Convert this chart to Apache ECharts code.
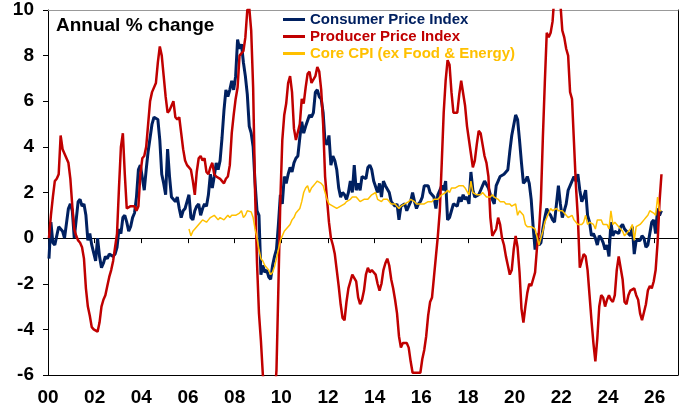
<!DOCTYPE html>
<html><head><meta charset="utf-8">
<script src="https://cdn.jsdelivr.net/npm/echarts@6/dist/echarts.min.js"></script>
<style>html,body{margin:0;padding:0;background:#fff}#c{width:685px;height:408px}</style>
</head><body><div id="c"></div>
<script>
// Monthly data, annual % change. CPI & PPI start Jan 2000, Core CPI starts Jan 2006
const startYear = 2000;
const coreStartYear = 2006;
const tickLabels = ['00','02','04','06','08','10','12','14','16','18','20','22','24','26'];
const seriesNames = ['Consumer Price Index','Producer Price Index','Core CPI (ex Food & Energy)'];

const cpi = [
-0.9,0.7,-0.2,-0.3,0.1,0.5,0.5,0.3,0.0,0.0,1.3,1.5,
1.2,0.0,0.8,1.6,1.7,1.4,1.5,1.0,-0.1,0.2,-0.3,-0.3,
-1.0,0.0,-0.8,-1.3,-1.1,-0.8,-0.9,-0.7,-0.7,-0.8,-0.7,-0.4,
0.4,0.2,0.9,1.0,0.7,0.3,0.5,0.9,1.1,1.8,3.0,3.2,
3.2,2.1,3.0,3.8,4.4,5.0,5.3,5.3,5.2,4.3,2.8,2.4,
1.9,3.9,2.7,1.8,1.8,1.6,1.8,1.3,0.9,1.2,1.3,1.6,
1.9,0.9,0.8,1.2,1.4,1.5,1.0,1.3,1.5,1.4,1.9,2.8,
2.2,2.7,3.3,3.0,3.4,4.4,5.6,6.5,6.2,6.5,6.9,6.5,
7.1,8.7,8.3,8.5,7.7,7.1,6.3,4.9,4.6,4.0,2.4,1.2,
1.0,-1.6,-1.2,-1.5,-1.4,-1.7,-1.8,-1.2,-0.8,-0.5,0.6,1.9,
1.5,2.7,2.4,2.8,3.1,2.9,3.3,3.5,3.6,4.4,5.1,4.6,
4.9,4.9,5.4,5.3,5.5,6.4,6.5,6.2,6.1,5.5,4.2,4.1,
4.5,3.2,3.6,3.4,3.0,2.2,1.8,2.0,1.9,1.7,2.0,2.5,
2.0,3.2,2.1,2.4,2.1,2.7,2.7,2.6,3.1,3.2,3.0,2.5,
2.5,2.0,2.4,1.8,2.5,2.3,2.3,2.0,1.6,1.6,1.4,1.5,
0.8,1.4,1.4,1.5,1.2,1.4,1.6,2.0,1.6,1.3,1.5,1.6,
1.8,2.3,2.3,2.3,2.0,1.9,1.8,1.3,1.9,2.1,2.3,2.1,
2.5,0.8,0.9,1.2,1.5,1.5,1.4,1.8,1.6,1.9,1.7,1.8,
1.5,2.9,2.1,1.8,1.8,1.9,2.1,2.3,2.5,2.5,2.2,1.9,
1.7,1.5,2.3,2.5,2.7,2.7,2.8,2.8,3.0,3.8,4.5,4.5,
5.4,5.2,4.3,3.3,2.4,2.5,2.7,2.4,1.7,0.5,-0.5,0.2,
-0.3,-0.2,0.4,0.9,1.3,1.1,1.0,0.8,0.7,1.5,2.3,1.5,
0.9,0.9,1.5,2.1,2.1,2.5,2.7,2.5,2.8,2.1,1.6,1.8,
2.1,1.0,0.7,0.1,0.2,0.0,-0.3,0.1,0.0,-0.2,-0.5,-0.3,
-0.8,0.7,0.1,0.3,0.3,0.2,0.5,0.6,0.4,0.3,0.2,0.1,
0.5,-0.7,-0.1,-0.1,-0.1,0.1,0.0,-0.4,-0.3,0.2,0.7,0.8,
0.2,1.3,1.0,1.2
];

const ppi = [
0.0,1.0,1.8,2.5,2.6,2.8,4.5,3.9,3.7,3.5,3.3,2.6,
1.4,0.4,0.1,-0.1,-0.2,-0.4,-0.9,-2.2,-3.0,-3.4,-3.9,-4.0,
-4.0,-4.1,-3.7,-3.0,-2.7,-2.5,-2.1,-1.7,-1.4,-1.0,-0.4,0.2,
2.2,4.0,4.6,2.8,1.3,1.3,1.4,1.4,1.4,1.2,1.4,2.8,
3.5,3.6,4.0,5.0,6.0,6.4,6.4,6.8,7.7,8.4,8.0,7.1,
6.2,5.5,5.6,5.8,6.0,5.3,5.2,5.3,4.6,3.9,3.4,3.2,
3.1,3.0,2.5,1.9,2.9,3.5,3.6,3.4,3.5,2.9,2.8,3.1,
3.3,2.8,2.7,2.7,2.6,2.5,2.4,2.6,2.7,3.2,4.6,5.4,
6.1,6.6,8.0,8.1,8.2,8.8,10.0,10.1,9.1,6.6,2.0,-1.1,
-3.3,-4.5,-6.0,-6.6,-7.2,-7.8,-8.2,-7.9,-7.0,-5.8,-2.1,1.7,
4.3,5.4,5.9,6.8,7.1,6.4,4.8,4.3,4.3,5.0,6.1,5.9,
6.6,7.2,7.3,6.8,6.8,7.1,7.5,7.3,6.5,5.0,2.7,1.7,
0.7,0.0,-0.3,-0.7,-1.4,-2.1,-2.9,-3.5,-3.6,-2.8,-2.2,-1.9,
-1.6,-1.6,-1.9,-2.6,-2.9,-2.7,-2.3,-1.6,-1.3,-1.5,-1.4,-1.4,
-1.6,-2.0,-2.3,-2.0,-1.4,-1.1,-0.9,-1.2,-1.8,-2.2,-2.7,-3.3,
-4.3,-4.8,-4.6,-4.6,-4.6,-4.8,-5.4,-5.9,-5.9,-5.9,-5.9,-5.9,
-5.3,-4.9,-4.3,-3.4,-2.8,-2.6,-1.7,-0.8,0.1,1.2,3.3,5.5,
6.9,7.8,7.6,6.4,5.5,5.5,5.5,6.3,6.9,6.9,5.8,4.9,
4.3,3.7,3.1,3.4,4.1,4.7,4.6,4.1,3.6,3.3,2.7,0.9,
0.1,0.1,0.4,0.9,0.6,0.0,-0.3,-0.8,-1.2,-1.6,-1.4,-0.5,
0.1,-0.4,-1.5,-3.1,-3.7,-3.0,-2.4,-2.0,-2.1,-2.1,-1.5,-0.4,
0.3,1.7,4.4,6.8,9.0,8.8,9.0,9.5,10.7,13.5,12.9,10.3,
9.1,8.8,8.3,8.0,6.4,6.1,4.2,2.3,0.9,-1.3,-1.3,-0.7,
-0.8,-1.4,-2.5,-3.6,-4.6,-5.4,-4.4,-3.0,-2.5,-2.6,-3.0,-2.7,
-2.5,-2.7,-2.8,-2.5,-1.4,-0.8,-0.8,-1.8,-2.8,-2.9,-2.5,-2.3,
-2.3,-2.2,-2.5,-2.7,-3.3,-3.6,-3.6,-2.9,-2.3,-2.1,-2.2,-1.9,
-1.4,-0.2,1.6,2.8
];

const core = [
0.4,0.1,0.3,0.4,0.5,0.6,0.7,0.8,0.8,0.7,0.8,0.9,
0.9,1.0,0.9,0.8,0.9,0.9,0.8,0.9,1.0,0.9,1.0,1.0,
1.0,1.0,1.1,1.2,0.9,1.0,1.2,1.2,1.15,0.9,0.4,0.0,
-0.5,-0.9,-1.0,-1.2,-1.3,-1.4,-1.6,-1.5,-1.25,-0.9,-0.5,-0.1,
0.1,0.3,0.4,0.5,0.6,0.8,0.9,1.1,1.2,1.3,1.6,2.0,
2.2,2.3,2.0,2.2,2.3,2.4,2.5,2.5,2.4,2.3,2.0,1.7,
1.5,1.5,1.4,1.4,1.3,1.3,1.4,1.4,1.5,1.6,1.6,1.7,
1.8,1.8,1.8,1.7,1.6,1.6,1.7,1.7,1.7,1.8,1.9,1.9,
2.0,1.7,1.7,1.6,1.7,1.7,1.7,1.6,1.5,1.5,1.5,1.4,
1.3,1.4,1.4,1.5,1.5,1.6,1.7,1.7,1.6,1.5,1.5,1.5,
1.5,1.5,1.5,1.6,1.6,1.6,1.7,1.7,1.7,1.8,1.9,1.9,
2.0,2.1,2.0,2.2,2.2,2.2,2.2,2.3,2.3,2.3,2.2,2.2,
1.9,2.5,2.0,2.0,1.9,1.9,1.9,2.0,1.9,1.8,1.8,1.8,
1.9,1.8,1.8,1.7,1.6,1.6,1.6,1.5,1.5,1.5,1.4,1.4,
1.5,1.0,1.2,1.1,1.0,0.6,0.5,0.5,0.5,0.5,0.4,0.4,
-0.3,0.0,0.3,0.7,0.9,1.1,1.3,1.2,1.2,1.3,1.2,1.2,
1.2,1.1,1.1,0.9,0.9,1.0,0.8,0.8,0.6,0.6,0.6,0.7,
1.0,0.6,0.7,0.7,0.6,0.4,0.8,0.8,0.8,0.6,0.6,0.6,
0.4,1.2,0.6,0.7,0.6,0.6,0.4,0.3,0.1,0.2,0.3,0.4,
0.6,-0.1,0.5,0.5,0.6,0.7,0.8,0.9,1.0,1.2,1.2,1.1,
1.0,1.8,1.2,1.2
];

const FONT = '"Liberation Sans", Arial, Helvetica, sans-serif';
const colors = ['#002060', '#C00000', '#FFC000'];

function toPoints(arr, y0) {
  return arr.map((v, i) => [y0 + (i + 0.5) / 12, v]);
}
function xLabel(v) {
  const k = Math.round(v - startYear);
  if (Math.abs(v - startYear - k) > 1e-6 || k % 2 !== 0) return '';
  return tickLabels[k / 2] !== undefined ? tickLabels[k / 2] : '';
}

const chart = echarts.init(document.getElementById('c'), null, {renderer: 'canvas'});
chart.setOption({
  animation: false,
  backgroundColor: '#fff',
  grid: {left: 48, right: 7, top: 10, bottom: 33, containLabel: false},
  graphic: [{
    type: 'text', left: 56, top: 16,
    style: {text: 'Annual % change', font: 'bold 19px ' + FONT, fill: '#000'}
  }],
  legend: {
    orient: 'vertical', left: 283, top: 12, padding: 0, itemGap: 2,
    itemWidth: 22, itemHeight: 3, icon: 'rect',
    textStyle: {fontSize: 15, fontWeight: 'bold', fontFamily: FONT, lineHeight: 15},
    data: seriesNames.map((n, i) => ({name: n, textStyle: {color: colors[i]}}))
  },
  xAxis: [
    {
      type: 'value', min: 2000, max: 2027, interval: 2,
      axisLine: {show: true, onZero: true, lineStyle: {color: '#000', width: 1}},
      axisTick: {show: true, length: 5, lineStyle: {color: '#000'}},
      axisLabel: {show: false}, splitLine: {show: false}
    },
    {
      type: 'value', min: 2000, max: 2027, interval: 2, position: 'bottom',
      axisLine: {show: true, onZero: false, lineStyle: {color: '#000', width: 1}},
      axisTick: {show: false}, splitLine: {show: false},
      axisLabel: {show: true, formatter: xLabel, fontSize: 19, fontWeight: 'bold',
        fontFamily: FONT, color: '#000', margin: 13}
    },
    {
      type: 'value', min: 0, max: 1, position: 'top',
      axisLine: {show: true, onZero: false, lineStyle: {color: '#999', width: 1}},
      axisTick: {show: false}, axisLabel: {show: false}, splitLine: {show: false}
    }
  ],
  yAxis: [
    {
      type: 'value', min: -6, max: 10, interval: 2,
      axisLine: {show: true, onZero: false, lineStyle: {color: '#000', width: 1}},
      axisTick: {show: true, length: 5, lineStyle: {color: '#000'}},
      splitLine: {show: false},
      axisLabel: {fontSize: 19, fontWeight: 'bold', fontFamily: FONT, color: '#000', margin: 14}
    },
    {
      type: 'value', min: 0, max: 1, position: 'right',
      axisLine: {show: true, onZero: false, lineStyle: {color: '#000', width: 1}},
      axisTick: {show: false}, axisLabel: {show: false}, splitLine: {show: false}
    }
  ],
  series: [
    {name: seriesNames[0], type: 'line', xAxisIndex: 0, yAxisIndex: 0, data: toPoints(cpi, startYear),
      symbol: 'none', clip: true, z: 2, lineStyle: {color: colors[0], width: 3}, itemStyle: {color: colors[0]}},
    {name: seriesNames[1], type: 'line', xAxisIndex: 0, yAxisIndex: 0, data: toPoints(ppi, startYear),
      symbol: 'none', clip: true, z: 3, lineStyle: {color: colors[1], width: 2.5}, itemStyle: {color: colors[1]}},
    {name: seriesNames[2], type: 'line', xAxisIndex: 0, yAxisIndex: 0, data: toPoints(core, coreStartYear),
      symbol: 'none', clip: true, z: 4, lineStyle: {color: colors[2], width: 1.5}, itemStyle: {color: colors[2]}}
  ]
});
</script></body></html>
